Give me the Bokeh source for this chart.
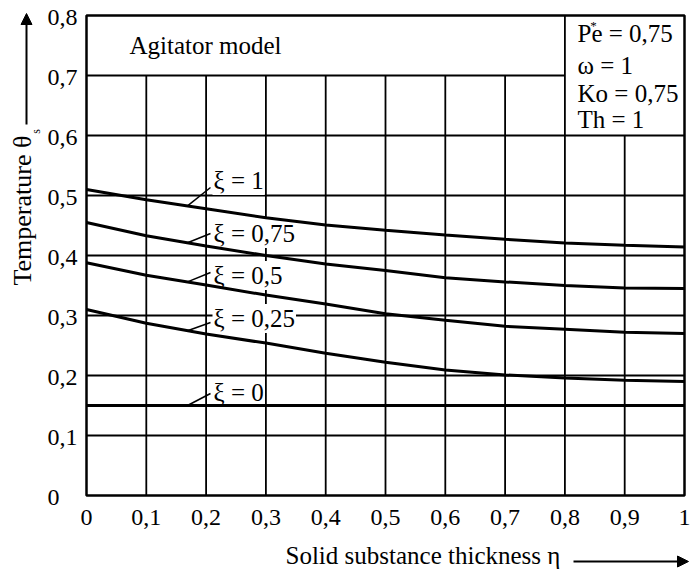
import numpy as np
from bokeh.plotting import figure
from bokeh.models import Range1d, Arrow, NormalHead
from bokeh.core.properties import value
from bokeh.embed import file_html
from bokeh.resources import INLINE

# ---- data ----
eta = [0.0, 0.1, 0.2, 0.3, 0.4, 0.5, 0.6, 0.7, 0.8, 0.9, 1.0]
theta_xi_1 = [0.510, 0.493, 0.478, 0.463, 0.451, 0.442, 0.434, 0.427, 0.421, 0.417, 0.414]
theta_xi_075 = [0.455, 0.433, 0.416, 0.400, 0.386, 0.375, 0.363, 0.356, 0.350, 0.346, 0.345]
theta_xi_05 = [0.388, 0.367, 0.351, 0.334, 0.319, 0.303, 0.292, 0.282, 0.277, 0.272, 0.270]
theta_xi_025 = [0.310, 0.287, 0.269, 0.254, 0.237, 0.222, 0.209, 0.201, 0.196, 0.192, 0.190]
theta_xi_0 = [0.150, 0.150, 0.150, 0.150, 0.150, 0.150, 0.150, 0.150, 0.150, 0.150, 0.150]

series = [theta_xi_1, theta_xi_075, theta_xi_05, theta_xi_025, theta_xi_0]
series_labels = ["ξ = 1", "ξ = 0,75", "ξ = 0,5", "ξ = 0,25", "ξ = 0"]

x_ticks = [0, 0.1, 0.2, 0.3, 0.4, 0.5, 0.6, 0.7, 0.8, 0.9, 1.0]
x_tick_labels = ["0", "0,1", "0,2", "0,3", "0,4", "0,5", "0,6", "0,7", "0,8", "0,9", "1"]
y_ticks = [0, 0.1, 0.2, 0.3, 0.4, 0.5, 0.6, 0.7, 0.8]
y_tick_labels = ["0", "0,1", "0,2", "0,3", "0,4", "0,5", "0,6", "0,7", "0,8"]

# partial grid (as in the reference)
vgrid_x = [0.1, 0.2, 0.3, 0.4, 0.5, 0.6, 0.7, 0.8, 0.9]
vgrid_top = [0.7, 0.7, 0.7, 0.7, 0.7, 0.7, 0.7, 0.8, 0.6]
hgrid_y = [0.1, 0.2, 0.3, 0.4, 0.5, 0.6, 0.7]
hgrid_right = [1, 1, 1, 1, 1, 1, 0.8]

params = ["Pe = 0,75", "ω = 1", "Ko = 0,75", "Th = 1"]

x_title = "Solid substance thickness η"
y_title = "Temperature θ"
title_text = "Agitator model"

# ---- layout (pixels) ----
W, H = 690, 577
X0_PX, X_SCALE = 86, 598      # canvas pixel of eta=0, px per unit
Y0_PX, Y_SCALE = 495, 600     # canvas pixel (from top) of theta=0, px per unit

x_range = Range1d(-X0_PX / X_SCALE, (W - X0_PX) / X_SCALE)
y_range = Range1d(-(H - Y0_PX) / Y_SCALE, Y0_PX / Y_SCALE)


def sx(px):   # canvas pixel -> data x
    return (px - X0_PX) / X_SCALE


def sy(py):   # canvas pixel -> data y
    return (Y0_PX - py) / Y_SCALE


FONT = value("Liberation Serif")
FS = value("25px")
FST = value("24px")

p = figure(width=W, height=H, x_range=x_range, y_range=y_range,
           x_axis_location=None, y_axis_location=None,
           output_backend="svg", toolbar_location=None,
           min_border=0, min_border_left=0, min_border_right=0,
           min_border_top=0, min_border_bottom=0)
p.outline_line_color = None
p.xgrid.visible = False
p.ygrid.visible = False
p.background_fill_color = "white"
p.border_fill_color = "white"

# grid
p.segment(x0=vgrid_x, y0=[0] * len(vgrid_x), x1=vgrid_x, y1=vgrid_top,
          line_color="black", line_width=1.8)
p.segment(x0=[0] * len(hgrid_y), y0=hgrid_y, x1=hgrid_right, y1=hgrid_y,
          line_color="black", line_width=1.8)

# tick labels (from tick arrays)
p.text(x=x_ticks, y=[sy(517)] * len(x_ticks), text=x_tick_labels, text_font=FONT,
       text_font_size=FST, text_align="center", text_baseline="middle", text_color="black")
yl_off = 2 / Y_SCALE
p.text(x=[sx(47)] * len(y_ticks), y=[t - yl_off for t in y_ticks], text=y_tick_labels,
       text_font=FONT, text_font_size=FST, text_align="left", text_baseline="middle",
       text_color="black")

# curve labels (white background hides the grid behind them)
label_x = sx(212)
label_center_y = [sy(180), sy(233), sy(275), sy(318), sy(392)]
p.text(x=[label_x] * 5, y=label_center_y, text=series_labels, text_font=FONT,
       text_font_size=FS, text_align="left", text_baseline="middle", text_color="black",
       background_fill_color="white", padding=1)

# leader lines (start on the curve)
leader_x0, leader_x1 = sx(187), sx(210)
leader_end_y = [sy(187), sy(233), sy(272), sy(322), sy(393)]
lead_y0 = [float(np.interp(leader_x0, eta, ys)) for ys in series]
p.segment(x0=[leader_x0] * 5, y0=lead_y0, x1=[leader_x1] * 5, y1=leader_end_y,
          line_color="black", line_width=1.5)

# curves
for ys in series:
    p.line(eta, ys, line_color="black", line_width=3)

# plot box
p.quad(left=[0], right=[1], bottom=[0], top=[0.8], fill_color=None,
       line_color="black", line_width=2.5)

# title inside plot
p.text(x=[sx(129)], y=[sy(45)], text=[title_text], text_font=FONT, text_font_size=FS,
       text_align="left", text_baseline="middle", text_color="black")

# parameter box
p.text(x=[sx(577)] * 4, y=[sy(33), sy(65), sy(93), sy(119)], text=params, text_font=FONT,
       text_font_size=FS, text_align="left", text_baseline="middle", text_color="black")
p.text(x=[sx(593)], y=[sy(25)], text=["*"], text_font=FONT, text_font_size=value("13px"),
       text_align="center", text_baseline="middle", text_color="black")

# axis titles with arrows
p.text(x=[sx(285)], y=[sy(555)], text=[x_title], text_font=FONT, text_font_size=FS,
       text_align="left", text_baseline="middle", text_color="black")
p.add_layout(Arrow(end=NormalHead(size=11, fill_color="black", line_color="black"),
                   x_start=sx(573), y_start=sy(561), x_end=sx(688), y_end=sy(561),
                   line_width=2, line_color="black"))

p.text(x=[sx(22)], y=[sy(285)], text=[y_title], text_font=FONT, text_font_size=value("26px"),
       text_align="left", text_baseline="middle", text_color="black", angle=np.pi / 2)
p.text(x=[sx(35)], y=[sy(131)], text=["s"], text_font=FONT, text_font_size=value("12px"),
       text_align="center", text_baseline="middle", text_color="black", angle=np.pi / 2)
p.add_layout(Arrow(end=NormalHead(size=11, fill_color="black", line_color="black"),
                   x_start=sx(26), y_start=sy(124), x_end=sx(26), y_end=sy(13),
                   line_width=2, line_color="black"))

open("out.html", "w").write(file_html(p, INLINE))
